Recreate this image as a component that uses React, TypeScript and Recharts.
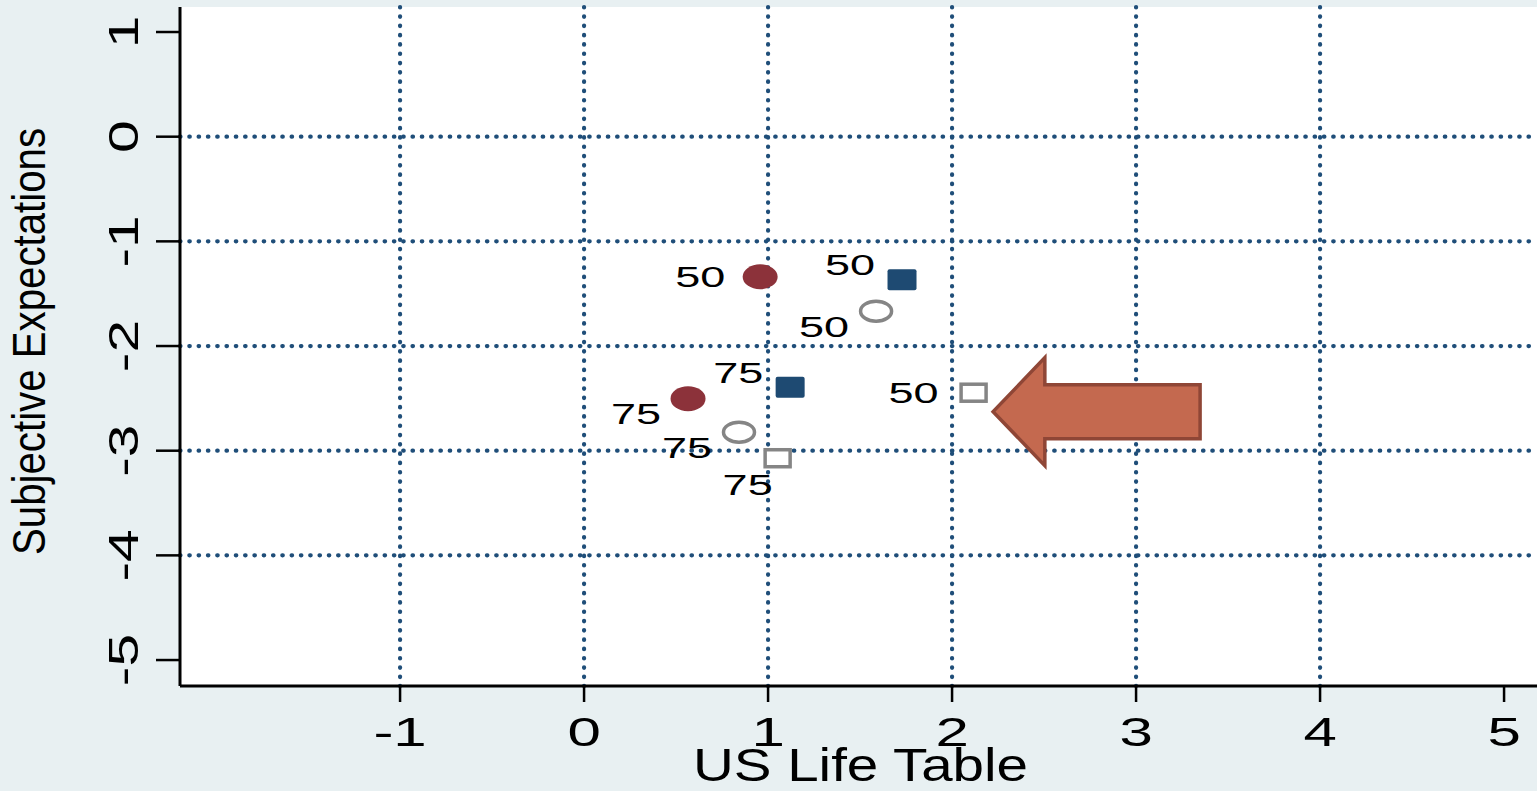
import React from 'react';
import { ScatterChart, Scatter, XAxis, YAxis, CartesianGrid, ReferenceArea } from 'recharts';

// age shown next to each marker
const ageLabels = ['50', '75'];

// filled maroon ellipses
const redCircleX = [0.957, 0.565];
const redCircleY = [-1.338, -2.503];
const redCircleClock = [9, 8];

// filled navy squares
const navySquareX = [1.728, 1.12];
const navySquareY = [-1.366, -2.393];
const navySquareClock = [10, 10];

// hollow grey circles
const greyCircleX = [1.587, 0.842];
const greyCircleY = [-1.667, -2.823];
const greyCircleClock = [8, 8];

// hollow grey squares
const greySquareX = [2.117, 1.052];
const greySquareY = [-2.446, -3.072];
const greySquareClock = [9, 7];

const xTicks = [-1, 0, 1, 2, 3, 4, 5];
const yTicks = [1, 0, -1, -2, -3, -4, -5];
const xGrid = [-1, 0, 1, 2, 3, 4];
const yGrid = [0, -1, -2, -3, -4];

// block arrow annotation box (data units)
const arrowX = [2.223, 3.348];
const arrowY = [-2.111, -3.143];

const FONT = '"Liberation Sans", Arial, Helvetica, sans-serif';

const rows = (xs: number[], ys: number[], clocks: number[]) =>
  xs.map((x, i) => ({ x, y: ys[i], label: ageLabels[i], clock: clocks[i] }));

// stata-like clock position for marker labels
const labelAt = (cx: number, cy: number, clock: number) => {
  const a = (clock * Math.PI) / 6;
  return { x: cx + Math.sin(a) * 60, y: cy - Math.cos(a) * 30 };
};

const MarkerLabel = ({ cx, cy, payload }: any) => {
  const p = labelAt(cx, cy, payload.clock);
  return (
    <text
      transform={`translate(${p.x},${p.y + 10.5}) scale(1.5,1)`}
      textAnchor="middle"
      fontSize={30}
      fontFamily={FONT}
      fill="#000"
    >
      {payload.label}
    </text>
  );
};

const makeShape = (kind: 'ellipse' | 'rect', color: string, hollow: boolean) => (props: any) => {
  const { cx, cy } = props;
  const fill = hollow ? '#fff' : color;
  const stroke = hollow ? color : 'none';
  return (
    <g>
      {kind === 'ellipse' ? (
        hollow ? (
          <ellipse cx={cx} cy={cy} rx={15.5} ry={10} fill={fill} stroke={stroke} strokeWidth={3.5} />
        ) : (
          <ellipse cx={cx} cy={cy} rx={17.5} ry={12.5} fill={fill} />
        )
      ) : hollow ? (
        <rect x={cx - 12.5} y={cy - 8.5} width={25} height={17} fill={fill} stroke={stroke} strokeWidth={3.5} />
      ) : (
        <rect x={cx - 14.5} y={cy - 10.5} width={29} height={21} rx={2} fill={fill} />
      )}
      <MarkerLabel {...props} />
    </g>
  );
};

const XTick = ({ x, y, payload }: any) => (
  <text
    transform={`translate(${x},${y + 42}) scale(1.5,1)`}
    textAnchor="middle"
    fontSize={40}
    fontFamily={FONT}
    fill="#000"
  >
    {payload.value}
  </text>
);

const YTick = ({ x, y, payload }: any) => (
  <text
    transform={`translate(${x - 16},${y}) rotate(-90) scale(1.4,1)`}
    textAnchor="middle"
    fontSize={42}
    fontFamily={FONT}
    fill="#000"
  >
    {payload.value}
  </text>
);

const XTitle = ({ viewBox }: any) => (
  <text
    x={viewBox.x + viewBox.width / 2 + 2}
    y={viewBox.y + 95}
    textAnchor="middle"
    fontSize={46}
    fontFamily={FONT}
    textLength={335}
    lengthAdjust="spacingAndGlyphs"
    fill="#000"
  >
    US Life Table
  </text>
);

const YTitle = ({ viewBox }: any) => (
  <text
    transform={`translate(45,${viewBox.y + viewBox.height / 2 - 5}) rotate(-90)`}
    textAnchor="middle"
    fontSize={47}
    fontFamily={FONT}
    textLength={427}
    lengthAdjust="spacingAndGlyphs"
    fill="#000"
  >
    Subjective Expectations
  </text>
);

const ArrowShape = ({ x, y, width: w, height: h }: any) => {
  const pts = [
    [x, y + h / 2],
    [x + 0.25 * w, y],
    [x + 0.25 * w, y + 0.25 * h],
    [x + w, y + 0.25 * h],
    [x + w, y + 0.75 * h],
    [x + 0.25 * w, y + 0.75 * h],
    [x + 0.25 * w, y + h],
  ]
    .map((p) => p.join(','))
    .join(' ');
  return <polygon points={pts} fill="#c4694f" stroke="#8f4636" strokeWidth={3.5} strokeLinejoin="miter" />;
};

export default function App() {
  return (
    <div style={{ position: 'absolute', left: 0, top: 0, width: 1537, height: 791, background: '#e8f0f2' }}>
      <ScatterChart width={1537} height={791} margin={{ top: 7, right: 0, left: 0, bottom: 0 }}>
        <CartesianGrid
          fill="#fff"
          fillOpacity={1}
          horizontalValues={yGrid}
          verticalValues={xGrid}
          stroke="#1f4e79"
          strokeWidth={4.2}
          strokeDasharray="0.5 8.8"
          strokeLinecap="round"
        />
        <XAxis
          type="number"
          dataKey="x"
          domain={[-2.196, 5.179]}
          ticks={xTicks}
          allowDataOverflow
          height={105}
          tickSize={16}
          tick={<XTick />}
          tickLine={{ stroke: '#000', strokeWidth: 2.5 }}
          axisLine={{ stroke: '#000', strokeWidth: 3 }}
          label={{ content: (p: any) => <XTitle viewBox={p.viewBox} /> }}
        />
        <YAxis
          type="number"
          dataKey="y"
          domain={[-5.248, 1.239]}
          ticks={yTicks}
          allowDataOverflow
          width={180}
          tickSize={24}
          tick={<YTick />}
          tickLine={{ stroke: '#000', strokeWidth: 2.5 }}
          axisLine={{ stroke: '#000', strokeWidth: 3 }}
          label={{ content: (p: any) => <YTitle viewBox={p.viewBox} /> }}
        />
        <ReferenceArea x1={arrowX[0]} x2={arrowX[1]} y1={arrowY[0]} y2={arrowY[1]} shape={ArrowShape} />
        <Scatter data={rows(greySquareX, greySquareY, greySquareClock)} shape={makeShape('rect', '#858585', true)} isAnimationActive={false} />
        <Scatter data={rows(greyCircleX, greyCircleY, greyCircleClock)} shape={makeShape('ellipse', '#858585', true)} isAnimationActive={false} />
        <Scatter data={rows(navySquareX, navySquareY, navySquareClock)} shape={makeShape('rect', '#1e4a72', false)} isAnimationActive={false} />
        <Scatter data={rows(redCircleX, redCircleY, redCircleClock)} shape={makeShape('ellipse', '#8c323a', false)} isAnimationActive={false} />
      </ScatterChart>
    </div>
  );
}
